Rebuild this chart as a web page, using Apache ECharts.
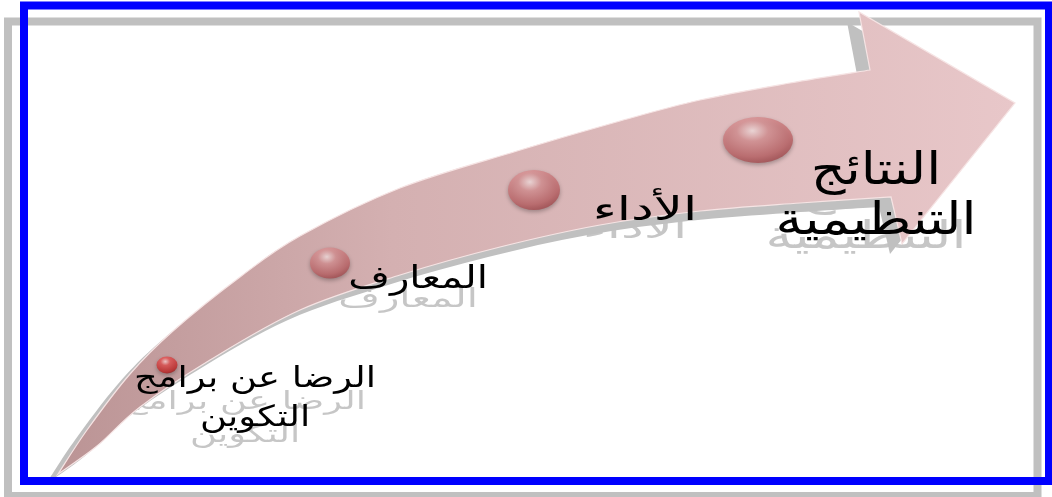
<!DOCTYPE html>
<html><head><meta charset="utf-8">
<style>html,body{margin:0;padding:0;background:#fff}#c{width:1052px;height:497px}</style>
<script src="https://cdn.jsdelivr.net/npm/echarts@6/dist/echarts.min.js"></script>
</head><body><div id="c"></div>
<script>
// ---- data (in the picture's own coordinate units) ----
const stageNames = ['الرضا عن برامج\nالتكوين', 'المعارف', 'الأداء', 'النتائج\nالتنظيمية'];
const stageX = [167, 330, 534, 758];
const stageY = [365, 263, 190, 140];
const stageW = [21, 40, 52, 70];
const stageH = [17, 31, 40, 46];
const labelX = [255, 418, 645, 876];
const labelY = [399, 280, 211, 197];
const arrowUpper = [[58,474],[87,430],[130,374],[173,331],[240,277],[300,236],[400,188],[517,151],[620,121],[700,100],[790,83],[870,70]];
const arrowHead = [[859,12],[1015,103],[902,244]];
const arrowLower = [[891,197],[800,203],[700,211],[600,225],[500,247],[400,275],[300,310],[210,360],[140,407],[97,446],[58,474]];

// ---- styles ----
const labelFont = [29, 31, 33, 45];
const labelScaleX = [1.27, 1.3, 1.55, 1.2];
const labelLine = [39, 34, 36, 50];
const FONT = "'DejaVu Sans', sans-serif";

function smoothPath(pts, start) {
  let d = (start ? 'M' : 'L') + pts[0][0] + ' ' + pts[0][1];
  for (let i = 0; i < pts.length - 1; i++) {
    const p0 = pts[Math.max(i - 1, 0)], p1 = pts[i], p2 = pts[i + 1], p3 = pts[Math.min(i + 2, pts.length - 1)];
    const c1 = [p1[0] + (p2[0] - p0[0]) / 6, p1[1] + (p2[1] - p0[1]) / 6];
    const c2 = [p2[0] - (p3[0] - p1[0]) / 6, p2[1] - (p3[1] - p1[1]) / 6];
    d += ' C' + c1[0] + ' ' + c1[1] + ' ' + c2[0] + ' ' + c2[1] + ' ' + p2[0] + ' ' + p2[1];
  }
  return d;
}
function arrowPath(api) {
  const up = arrowUpper.map(p => api.coord(p));
  const hd = arrowHead.map(p => api.coord(p));
  const lo = arrowLower.map(p => api.coord(p));
  let d = smoothPath(up, true);
  hd.forEach(p => { d += ' L' + p[0] + ' ' + p[1]; });
  d += ' ' + smoothPath(lo, false) + ' Z';
  return d;
}
function textItem(api, dx, dy, fill, sy) {
  const i = api.value(2);
  const p = api.coord([api.value(0), api.value(1)]);
  return {type: 'text', x: p[0] + dx, y: p[1] + dy, scaleX: labelScaleX[i], scaleY: sy,
          style: {x: 0, y: 0, text: stageNames[i], fontSize: labelFont[i], fontFamily: FONT,
                  lineHeight: labelLine[i], fill: fill, align: 'center', verticalAlign: 'middle'}};
}

const chart = echarts.init(document.getElementById('c'), null, {renderer: 'canvas'});
const labelData = stageNames.map((n, i) => [labelX[i], labelY[i], i]);
const option = {
  backgroundColor: '#ffffff',
  animation: false,
  grid: {left: 0, right: 0, top: 0, bottom: 0},
  xAxis: {type: 'value', min: 0, max: 1052, show: false},
  yAxis: {type: 'value', min: 0, max: 497, inverse: true, show: false},
  graphic: [
    {type: 'rect', z: 0, shape: {x: 8, y: 21.5, width: 1029.5, height: 474.5},
     style: {fill: 'none', stroke: '#c0c0c0', lineWidth: 8}},
    {type: 'rect', z: 100, shape: {x: 24, y: 5.5, width: 1025, height: 475.5},
     style: {fill: 'none', stroke: '#0000ff', lineWidth: 8}}
  ],
  series: [
    {
      type: 'custom', z: 1, silent: true, data: labelData,
      renderItem: function (params, api) { return textItem(api, -10, 20, '#c6c6c6', 0.85); }
    },
    {
      type: 'custom', z: 2, silent: true, data: [0],
      renderItem: function (params, api) {
        return {type: 'path', x: -12, y: 10, shape: {pathData: arrowPath(api)},
                style: {fill: '#c0c0c0', stroke: null}};
      }
    },
    {
      type: 'custom', z: 3, silent: true, data: [0],
      renderItem: function (params, api) {
        return {type: 'path', shape: {pathData: arrowPath(api)},
                style: {
                  fill: new echarts.graphic.LinearGradient(0, 0, 1, 0, [
                    {offset: 0, color: '#bb9495'},
                    {offset: 0.35, color: '#d4b0b1'},
                    {offset: 1, color: '#e8c7c9'}
                  ]),
                  stroke: '#f6e4e4', lineWidth: 1.2
                }};
      }
    },
    {
      type: 'custom', z: 4, silent: true, data: labelData,
      renderItem: function (params, api) { return textItem(api, 0, 0, '#000000', 1); }
    },
    {
      type: 'scatter', z: 5, silent: true,
      symbol: 'circle',
      symbolSize: function (v) { return [v[2], v[3]]; },
      itemStyle: {
        color: new echarts.graphic.RadialGradient(0.42, 0.3, 0.75, [
          {offset: 0, color: '#fbe6e6'},
          {offset: 0.3, color: '#dc9597'},
          {offset: 0.75, color: '#c0676a'},
          {offset: 1, color: '#9c4448'}
        ]),
        shadowBlur: 4, shadowColor: 'rgba(0,0,0,0.35)', shadowOffsetY: 2
      },
      data: stageX.map((x, i) => {
        const d = {value: [x, stageY[i], stageW[i], stageH[i]]};
        if (i === 0) d.itemStyle = {color: new echarts.graphic.RadialGradient(0.42, 0.3, 0.75, [
          {offset: 0, color: '#ffd6d6'},
          {offset: 0.3, color: '#e65454'},
          {offset: 0.8, color: '#c32828'},
          {offset: 1, color: '#8e1616'}
        ])};
        return d;
      })
    }
  ]
};
chart.setOption(option);
</script></body></html>
